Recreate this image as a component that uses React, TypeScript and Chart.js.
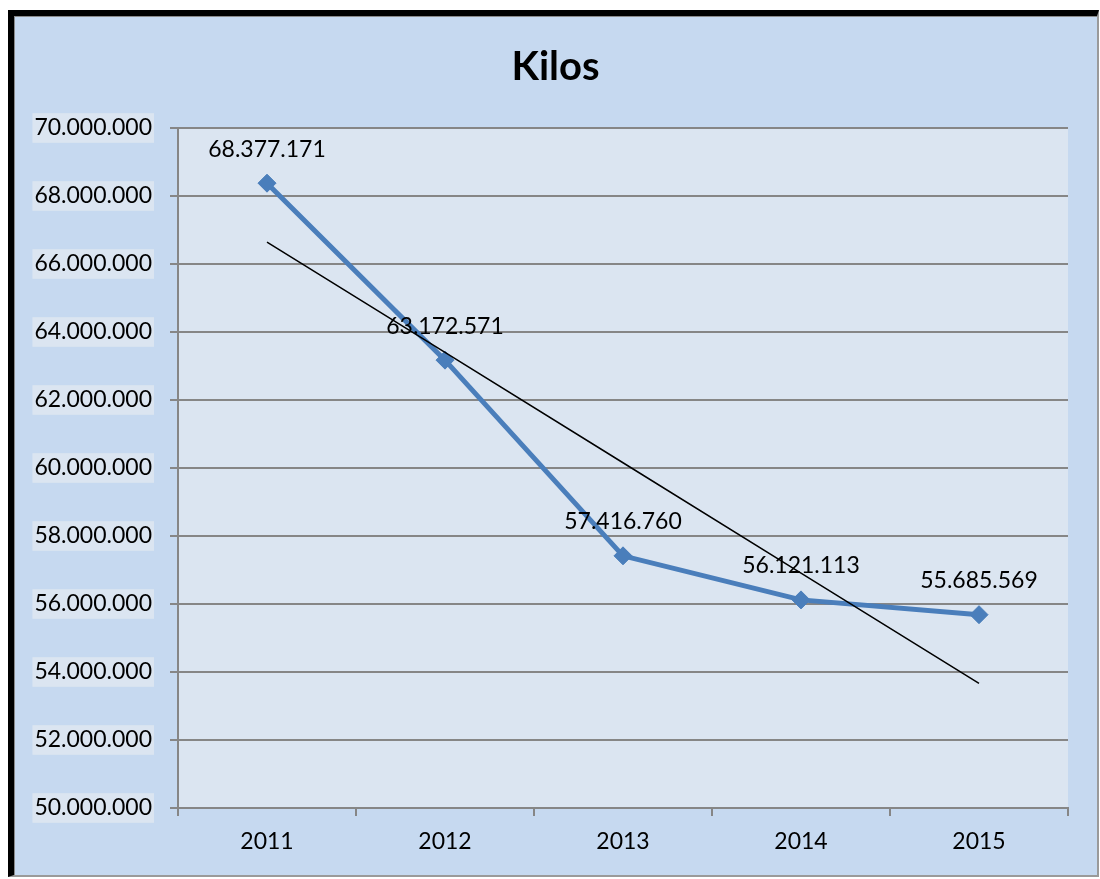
import React, { useEffect, useRef } from "react";
import { Chart, registerables } from "chart.js";

Chart.register(...registerables);

const title = "Kilos";
const years = ["2011", "2012", "2013", "2014", "2015"];
const kilos = [68377171, 63172571, 57416760, 56121113, 55685569];
const yMin = 50000000;
const yMax = 70000000;
const yStep = 2000000;

const FONT = "Lato, 'Open Sans', sans-serif";

function fmt(v: number): string {
  return Math.round(v)
    .toString()
    .replace(/\B(?=(\d{3})+(?!\d))/g, ".");
}

// least-squares linear trend computed from the data
function trend(values: number[]): number[] {
  const n = values.length;
  const xs = values.map((_, i) => i + 1);
  const mx = xs.reduce((a, b) => a + b, 0) / n;
  const my = values.reduce((a, b) => a + b, 0) / n;
  let num = 0;
  let den = 0;
  for (let i = 0; i < n; i++) {
    num += (xs[i] - mx) * (values[i] - my);
    den += (xs[i] - mx) * (xs[i] - mx);
  }
  const slope = num / den;
  return xs.map((x) => my + slope * (x - mx));
}

const plotBg = {
  id: "plotBg",
  beforeDraw(chart: any) {
    const { ctx, chartArea } = chart;
    ctx.save();
    ctx.fillStyle = "#dbe5f1";
    ctx.fillRect(chartArea.left, chartArea.top, chartArea.right - chartArea.left, chartArea.bottom - chartArea.top);
    ctx.restore();
  },
};

const titleDraw = {
  id: "titleDraw",
  afterDraw(chart: any) {
    const { ctx, width } = chart;
    ctx.save();
    ctx.font = `bold 40px ${FONT}`;
    ctx.fillStyle = "#000000";
    ctx.textAlign = "center";
    ctx.textBaseline = "middle";
    ctx.fillText(title, width / 2, 51);
    ctx.restore();
  },
};

const dataLabels = {
  id: "dataLabels",
  afterDatasetsDraw(chart: any) {
    const { ctx } = chart;
    const idx = 1;
    const meta = chart.getDatasetMeta(idx);
    const ds = chart.data.datasets[idx];
    ctx.save();
    ctx.font = `23px ${FONT}`;
    ctx.fillStyle = "#000000";
    ctx.textAlign = "center";
    ctx.textBaseline = "middle";
    meta.data.forEach((pt: any, i: number) => {
      ctx.fillText(fmt(ds.data[i]), pt.x, pt.y - 34);
    });
    ctx.restore();
  },
};

export default function App() {
  const ref = useRef<HTMLCanvasElement>(null);

  useEffect(() => {
    if (!ref.current) return;
    const chart = new Chart(ref.current, {
      type: "line",
      data: {
        labels: years,
        datasets: [
          {
            label: "Tendencia",
            data: trend(kilos),
            borderColor: "#000000",
            borderWidth: 1.5,
            pointRadius: 0,
            fill: false,
            order: 0,
          },
          {
            label: title,
            data: kilos,
            borderColor: "#4a7ebb",
            backgroundColor: "#4a7ebb",
            borderWidth: 5,
            pointStyle: "rectRot",
            pointRadius: 9,
            pointBorderWidth: 1,
            pointBorderColor: "#4a7ebb",
            pointBackgroundColor: "#4a7ebb",
            fill: false,
            order: 1,
          },
        ],
      },
      options: {
        animation: false,
        responsive: false,
        maintainAspectRatio: false,
        layout: { padding: { left: 0, right: 29, top: 112, bottom: 0 } },
        plugins: {
          legend: { display: false },
          tooltip: { enabled: false },
          title: { display: false },
        },
        scales: {
          x: {
            type: "category",
            offset: true,
            grid: {
              offset: true,
              drawOnChartArea: false,
              drawTicks: true,
              tickLength: 8,
              color: "#868686",
              lineWidth: 2,
            },
            border: { display: true, color: "#868686", width: 2 },
            ticks: {
              color: "#000000",
              font: { family: FONT, size: 23 },
              padding: 12,
              maxRotation: 0,
            },
            afterFit(scale: any) {
              scale.height = 67;
            },
          },
          y: {
            min: yMin,
            max: yMax,
            grid: {
              color: "#868686",
              lineWidth: 2,
              drawTicks: true,
              tickLength: 8,
            },
            border: { display: true, color: "#868686", width: 2 },
            ticks: {
              stepSize: yStep,
              color: "#000000",
              font: { family: FONT, size: 23 },
              padding: 18,
              showLabelBackdrop: true,
              backdropColor: "#dbe5f1",
              backdropPadding: { top: 1, bottom: 1, left: 2, right: 2 },
              callback: (v: any) => fmt(Number(v)),
            },
            afterFit(scale: any) {
              scale.width = 164;
            },
          },
        },
      },
      plugins: [plotBg, dataLabels, titleDraw],
    });
    return () => chart.destroy();
  }, []);

  return (
    <div
      style={{
        position: "absolute",
        left: 8,
        top: 10,
        width: 1083,
        height: 859,
        borderLeft: "6px solid #000",
        borderTop: "6px solid #000",
        borderRight: "2px solid #9a9a9a",
        borderBottom: "2px solid #9a9a9a",
        background: "#c6d9f0",
        boxShadow: "inset 1px 1px 0 #8a8a8a",
      }}
    >
      <canvas ref={ref} width={1083} height={859} style={{ display: "block", width: 1083, height: 859 }} />
    </div>
  );
}
